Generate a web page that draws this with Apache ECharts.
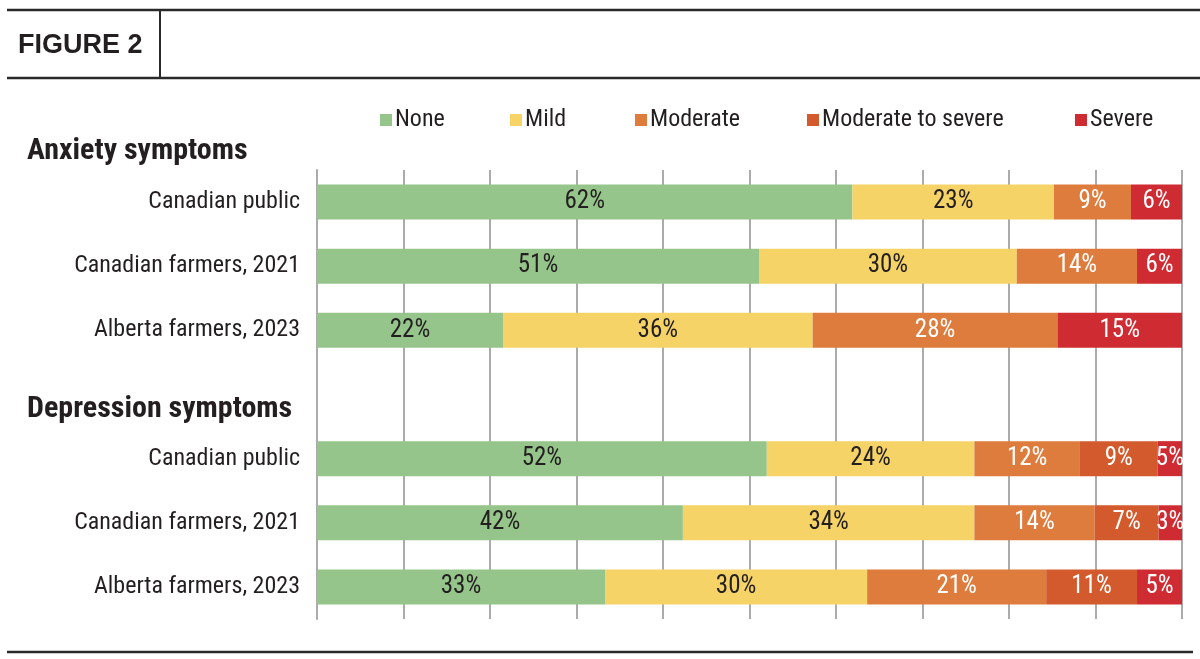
<!DOCTYPE html>
<html>
<head>
<meta charset="utf-8">
<script src="https://cdn.jsdelivr.net/npm/echarts@6/dist/echarts.min.js"></script>
<style>
  html, body { margin: 0; padding: 0; background: #fff; }
  #chart { width: 1200px; height: 659px; }
</style>
</head>
<body>
<div id="chart"></div>
<script>
// rows: anxiety (3), blank spacer, depression (3)
var categories = ['Canadian public', 'Canadian farmers, 2021', 'Alberta farmers, 2023', '',
  'Canadian public', 'Canadian farmers, 2021', 'Alberta farmers, 2023'];
var levels = ['None', 'Mild', 'Moderate', 'Moderate to severe', 'Severe'];

// bar widths as drawn (share of 100)
var noneVals = [61.9, 51.1, 21.5, null, 52.0, 42.3, 33.3];
var mildVals = [23.3, 29.8, 35.8, null, 24.0, 33.7, 30.3];
var moderateVals = [8.9, 13.9, 28.3, null, 12.2, 13.9, 20.7];
var modSevereVals = [null, null, null, null, 9.0, 7.4, 10.5];
var severeVals = [5.9, 5.2, 14.4, null, 2.8, 2.7, 5.2];

// percentages printed on the bars
var noneLabels = [62, 51, 22, null, 52, 42, 33];
var mildLabels = [23, 30, 36, null, 24, 34, 30];
var moderateLabels = [9, 14, 28, null, 12, 14, 21];
var modSevereLabels = [null, null, null, null, 9, 7, 11];
var severeLabels = [6, 6, 15, null, 5, 3, 5];

var colors = ['#95c58a', '#f5d367', '#dd7c3d', '#d35a2c', '#cf2b33'];
var labelColors = ['#231f20', '#231f20', '#ffffff', '#ffffff', '#ffffff'];
var FONT = '"Roboto Condensed", Roboto, sans-serif';

var allVals = [noneVals, mildVals, moderateVals, modSevereVals, severeVals];
var allLabels = [noneLabels, mildLabels, moderateLabels, modSevereLabels, severeLabels];

var series = levels.map(function (name, i) {
  return {
    name: name,
    type: 'bar',
    stack: 'total',
    barWidth: 35,
    itemStyle: { color: colors[i] },
    label: {
      show: true,
      position: 'inside',
      color: labelColors[i],
      fontSize: 25,
      padding: [4, 0, 0, 0],
      fontFamily: FONT,
      formatter: function (p) {
        var v = allLabels[i][p.dataIndex];
        return v == null ? '' : v + '%';
      }
    },
    emphasis: { disabled: true },
    data: allVals[i]
  };
});

// one legend per level so each sits where it does in the original
var legendLeft = [380, 510, 635, 807, 1075];
var legends = levels.map(function (name, i) {
  return {
    data: [name],
    left: legendLeft[i],
    top: 108,
    padding: 0,
    icon: 'rect',
    itemWidth: 12,
    itemHeight: 12,
    selectedMode: false,
    textStyle: { fontSize: 24, color: '#231f20', fontFamily: FONT, padding: [0, 0, 0, -2] }
  };
});

var chart = echarts.init(document.getElementById('chart'));
var option = {
  animation: false,
  textStyle: { fontFamily: FONT },
  legend: legends,
  grid: { left: 317, right: 18, top: 170, bottom: 40 },
  xAxis: {
    type: 'value',
    min: 0,
    max: 100,
    interval: 10,
    axisLabel: { show: false },
    axisLine: { show: false },
    axisTick: { show: false },
    splitLine: { lineStyle: { color: '#ababab', width: 2 } }
  },
  yAxis: {
    type: 'category',
    inverse: true,
    data: categories,
    axisTick: { show: false },
    axisLine: { lineStyle: { color: '#ababab', width: 2 } },
    axisLabel: { fontSize: 24, color: '#231f20', margin: 17, padding: [4, 0, 0, 0], fontFamily: FONT }
  },
  graphic: [
    { type: 'line', shape: { x1: 7, y1: 10, x2: 1200, y2: 10 }, style: { stroke: '#2a2a2a', lineWidth: 2.5 } },
    { type: 'line', shape: { x1: 7, y1: 78, x2: 1200, y2: 78 }, style: { stroke: '#2a2a2a', lineWidth: 2.5 } },
    { type: 'line', shape: { x1: 160, y1: 10, x2: 160, y2: 78 }, style: { stroke: '#2a2a2a', lineWidth: 2 } },
    { type: 'line', shape: { x1: 7, y1: 652, x2: 1193, y2: 652 }, style: { stroke: '#2a2a2a', lineWidth: 2.5 } },
    { type: 'text', left: 18, top: 32, style: { text: 'FIGURE 2', fontSize: 27, fontWeight: 'bold', fill: '#231f20', fontFamily: '"Liberation Sans", Arial, sans-serif' } },
    { type: 'text', left: 27, top: 136, style: { text: 'Anxiety symptoms', fontSize: 30, fontWeight: 'bold', fill: '#231f20', fontFamily: FONT } },
    { type: 'text', left: 27, top: 394, style: { text: 'Depression symptoms', fontSize: 30, fontWeight: 'bold', fill: '#231f20', fontFamily: FONT } }
  ],
  series: series
};
chart.setOption(option);
</script>
</body>
</html>
